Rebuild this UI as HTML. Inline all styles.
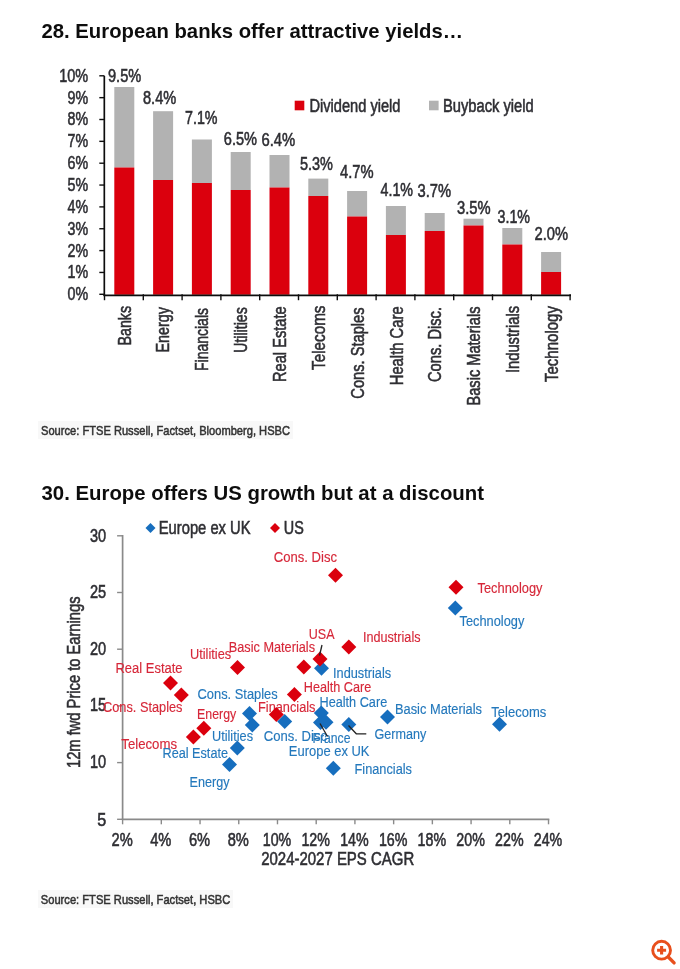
<!DOCTYPE html>
<html><head><meta charset="utf-8"><title>Charts</title>
<style>
html,body{margin:0;padding:0;background:#fff;}
body{width:680px;height:969px;overflow:hidden;}
svg{display:block;font-family:"Liberation Sans", sans-serif;}
</style></head><body>
<svg width="680" height="969" viewBox="0 0 680 969">
<defs><filter id="bl" filterUnits="userSpaceOnUse" x="0" y="0" width="680" height="969"><feGaussianBlur stdDeviation="0.6"/></filter></defs>
<rect width="680" height="969" fill="#fff"/>
<g filter="url(#bl)">
<text x="41.5" y="37.6" font-size="20.1" fill="#111" text-anchor="start" font-weight="bold" textLength="421.5" lengthAdjust="spacingAndGlyphs">28. European banks offer attractive yields…</text>
<rect x="114.30" y="87" width="20" height="80.50" fill="#B2B2B2"/>
<rect x="114.30" y="167.5" width="20" height="127.30" fill="#DB0011"/>
<rect x="153.10" y="111.2" width="20" height="68.80" fill="#B2B2B2"/>
<rect x="153.10" y="180" width="20" height="114.80" fill="#DB0011"/>
<rect x="191.90" y="139.5" width="20" height="43.50" fill="#B2B2B2"/>
<rect x="191.90" y="183" width="20" height="111.80" fill="#DB0011"/>
<rect x="230.70" y="152" width="20" height="38.00" fill="#B2B2B2"/>
<rect x="230.70" y="190" width="20" height="104.80" fill="#DB0011"/>
<rect x="269.50" y="155" width="20" height="32.50" fill="#B2B2B2"/>
<rect x="269.50" y="187.5" width="20" height="107.30" fill="#DB0011"/>
<rect x="308.30" y="178.6" width="20" height="17.40" fill="#B2B2B2"/>
<rect x="308.30" y="196" width="20" height="98.80" fill="#DB0011"/>
<rect x="347.10" y="191" width="20" height="25.50" fill="#B2B2B2"/>
<rect x="347.10" y="216.5" width="20" height="78.30" fill="#DB0011"/>
<rect x="385.90" y="206" width="20" height="29.00" fill="#B2B2B2"/>
<rect x="385.90" y="235" width="20" height="59.80" fill="#DB0011"/>
<rect x="424.70" y="213" width="20" height="18.00" fill="#B2B2B2"/>
<rect x="424.70" y="231" width="20" height="63.80" fill="#DB0011"/>
<rect x="463.50" y="218.7" width="20" height="6.80" fill="#B2B2B2"/>
<rect x="463.50" y="225.5" width="20" height="69.30" fill="#DB0011"/>
<rect x="502.30" y="228" width="20" height="16.50" fill="#B2B2B2"/>
<rect x="502.30" y="244.5" width="20" height="50.30" fill="#DB0011"/>
<rect x="541.10" y="252" width="20" height="20.00" fill="#B2B2B2"/>
<rect x="541.10" y="272" width="20" height="22.80" fill="#DB0011"/>
<path d="M104.3 75.80V295.90000000000003" stroke="#111" stroke-width="1.7" fill="none"/>
<path d="M103.5 295.3H571" stroke="#111" stroke-width="1.7" fill="none"/>
<path d="M99.3 294.30H104.3" stroke="#111" stroke-width="1.4"/>
<path d="M99.3 272.45H104.3" stroke="#111" stroke-width="1.4"/>
<path d="M99.3 250.60H104.3" stroke="#111" stroke-width="1.4"/>
<path d="M99.3 228.75H104.3" stroke="#111" stroke-width="1.4"/>
<path d="M99.3 206.90H104.3" stroke="#111" stroke-width="1.4"/>
<path d="M99.3 185.05H104.3" stroke="#111" stroke-width="1.4"/>
<path d="M99.3 163.20H104.3" stroke="#111" stroke-width="1.4"/>
<path d="M99.3 141.35H104.3" stroke="#111" stroke-width="1.4"/>
<path d="M99.3 119.50H104.3" stroke="#111" stroke-width="1.4"/>
<path d="M99.3 97.65H104.3" stroke="#111" stroke-width="1.4"/>
<path d="M99.3 75.80H104.3" stroke="#111" stroke-width="1.4"/>
<path d="M104.50 294.3V300.2" stroke="#111" stroke-width="1.4"/>
<path d="M143.30 294.3V300.2" stroke="#111" stroke-width="1.4"/>
<path d="M182.10 294.3V300.2" stroke="#111" stroke-width="1.4"/>
<path d="M220.90 294.3V300.2" stroke="#111" stroke-width="1.4"/>
<path d="M259.70 294.3V300.2" stroke="#111" stroke-width="1.4"/>
<path d="M298.50 294.3V300.2" stroke="#111" stroke-width="1.4"/>
<path d="M337.30 294.3V300.2" stroke="#111" stroke-width="1.4"/>
<path d="M376.10 294.3V300.2" stroke="#111" stroke-width="1.4"/>
<path d="M414.90 294.3V300.2" stroke="#111" stroke-width="1.4"/>
<path d="M453.70 294.3V300.2" stroke="#111" stroke-width="1.4"/>
<path d="M492.50 294.3V300.2" stroke="#111" stroke-width="1.4"/>
<path d="M531.30 294.3V300.2" stroke="#111" stroke-width="1.4"/>
<path d="M570.10 294.3V300.2" stroke="#111" stroke-width="1.4"/>
<text x="67.6" y="300.2" font-size="17.6" fill="#2e2e33" text-anchor="start" font-weight="normal" textLength="20.6" lengthAdjust="spacingAndGlyphs" stroke="#2e2e33" stroke-width="0.55">0%</text>
<text x="67.6" y="278.35" font-size="17.6" fill="#2e2e33" text-anchor="start" font-weight="normal" textLength="20.6" lengthAdjust="spacingAndGlyphs" stroke="#2e2e33" stroke-width="0.55">1%</text>
<text x="67.6" y="256.5" font-size="17.6" fill="#2e2e33" text-anchor="start" font-weight="normal" textLength="20.6" lengthAdjust="spacingAndGlyphs" stroke="#2e2e33" stroke-width="0.55">2%</text>
<text x="67.6" y="234.65" font-size="17.6" fill="#2e2e33" text-anchor="start" font-weight="normal" textLength="20.6" lengthAdjust="spacingAndGlyphs" stroke="#2e2e33" stroke-width="0.55">3%</text>
<text x="67.6" y="212.8" font-size="17.6" fill="#2e2e33" text-anchor="start" font-weight="normal" textLength="20.6" lengthAdjust="spacingAndGlyphs" stroke="#2e2e33" stroke-width="0.55">4%</text>
<text x="67.6" y="190.95" font-size="17.6" fill="#2e2e33" text-anchor="start" font-weight="normal" textLength="20.6" lengthAdjust="spacingAndGlyphs" stroke="#2e2e33" stroke-width="0.55">5%</text>
<text x="67.6" y="169.1" font-size="17.6" fill="#2e2e33" text-anchor="start" font-weight="normal" textLength="20.6" lengthAdjust="spacingAndGlyphs" stroke="#2e2e33" stroke-width="0.55">6%</text>
<text x="67.6" y="147.25" font-size="17.6" fill="#2e2e33" text-anchor="start" font-weight="normal" textLength="20.6" lengthAdjust="spacingAndGlyphs" stroke="#2e2e33" stroke-width="0.55">7%</text>
<text x="67.6" y="125.4" font-size="17.6" fill="#2e2e33" text-anchor="start" font-weight="normal" textLength="20.6" lengthAdjust="spacingAndGlyphs" stroke="#2e2e33" stroke-width="0.55">8%</text>
<text x="67.6" y="103.55" font-size="17.6" fill="#2e2e33" text-anchor="start" font-weight="normal" textLength="20.6" lengthAdjust="spacingAndGlyphs" stroke="#2e2e33" stroke-width="0.55">9%</text>
<text x="59.2" y="81.7" font-size="17.6" fill="#2e2e33" text-anchor="start" font-weight="normal" textLength="29.0" lengthAdjust="spacingAndGlyphs" stroke="#2e2e33" stroke-width="0.55">10%</text>
<text x="108" y="81.5" font-size="17.6" fill="#2e2e33" text-anchor="start" font-weight="normal" textLength="33.2" lengthAdjust="spacingAndGlyphs" stroke="#2e2e33" stroke-width="0.55">9.5%</text>
<text x="143" y="103.8" font-size="17.6" fill="#2e2e33" text-anchor="start" font-weight="normal" textLength="33.2" lengthAdjust="spacingAndGlyphs" stroke="#2e2e33" stroke-width="0.55">8.4%</text>
<text x="185" y="123.8" font-size="17.6" fill="#2e2e33" text-anchor="start" font-weight="normal" textLength="32.5" lengthAdjust="spacingAndGlyphs" stroke="#2e2e33" stroke-width="0.55">7.1%</text>
<text x="223.8" y="144.5" font-size="17.6" fill="#2e2e33" text-anchor="start" font-weight="normal" textLength="33.2" lengthAdjust="spacingAndGlyphs" stroke="#2e2e33" stroke-width="0.55">6.5%</text>
<text x="261.5" y="146.3" font-size="17.6" fill="#2e2e33" text-anchor="start" font-weight="normal" textLength="33.8" lengthAdjust="spacingAndGlyphs" stroke="#2e2e33" stroke-width="0.55">6.4%</text>
<text x="300" y="170" font-size="17.6" fill="#2e2e33" text-anchor="start" font-weight="normal" textLength="33" lengthAdjust="spacingAndGlyphs" stroke="#2e2e33" stroke-width="0.55">5.3%</text>
<text x="340" y="177.6" font-size="17.6" fill="#2e2e33" text-anchor="start" font-weight="normal" textLength="33.6" lengthAdjust="spacingAndGlyphs" stroke="#2e2e33" stroke-width="0.55">4.7%</text>
<text x="380.5" y="195.5" font-size="17.6" fill="#2e2e33" text-anchor="start" font-weight="normal" textLength="32.5" lengthAdjust="spacingAndGlyphs" stroke="#2e2e33" stroke-width="0.55">4.1%</text>
<text x="417.5" y="197" font-size="17.6" fill="#2e2e33" text-anchor="start" font-weight="normal" textLength="33.6" lengthAdjust="spacingAndGlyphs" stroke="#2e2e33" stroke-width="0.55">3.7%</text>
<text x="457" y="213.8" font-size="17.6" fill="#2e2e33" text-anchor="start" font-weight="normal" textLength="33.6" lengthAdjust="spacingAndGlyphs" stroke="#2e2e33" stroke-width="0.55">3.5%</text>
<text x="497.5" y="222.5" font-size="17.6" fill="#2e2e33" text-anchor="start" font-weight="normal" textLength="32.5" lengthAdjust="spacingAndGlyphs" stroke="#2e2e33" stroke-width="0.55">3.1%</text>
<text x="534.5" y="239.5" font-size="17.6" fill="#2e2e33" text-anchor="start" font-weight="normal" textLength="33.5" lengthAdjust="spacingAndGlyphs" stroke="#2e2e33" stroke-width="0.55">2.0%</text>
<rect x="294.7" y="100.7" width="9.6" height="9.6" fill="#DB0011"/>
<text x="309.5" y="112" font-size="17.6" fill="#2e2e33" text-anchor="start" font-weight="normal" textLength="91" lengthAdjust="spacingAndGlyphs" stroke="#2e2e33" stroke-width="0.55">Dividend yield</text>
<rect x="429" y="100.7" width="9.6" height="9.6" fill="#B2B2B2"/>
<text x="443" y="112" font-size="17.6" fill="#2e2e33" text-anchor="start" font-weight="normal" textLength="90.7" lengthAdjust="spacingAndGlyphs" stroke="#2e2e33" stroke-width="0.55">Buyback yield</text>
<text transform="translate(130.5,345.5) rotate(-90)" x="0" y="0" font-size="18.3" fill="#2e2e33" stroke="#2e2e33" stroke-width="0.55" textLength="39.5" lengthAdjust="spacingAndGlyphs">Banks</text>
<text transform="translate(169.37,352.5) rotate(-90)" x="0" y="0" font-size="18.3" fill="#2e2e33" stroke="#2e2e33" stroke-width="0.55" textLength="45.5" lengthAdjust="spacingAndGlyphs">Energy</text>
<text transform="translate(208.24,371) rotate(-90)" x="0" y="0" font-size="18.3" fill="#2e2e33" stroke="#2e2e33" stroke-width="0.55" textLength="63" lengthAdjust="spacingAndGlyphs">Financials</text>
<text transform="translate(247.11,352.8) rotate(-90)" x="0" y="0" font-size="18.3" fill="#2e2e33" stroke="#2e2e33" stroke-width="0.55" textLength="45.5" lengthAdjust="spacingAndGlyphs">Utilities</text>
<text transform="translate(285.98,382.0) rotate(-90)" x="0" y="0" font-size="18.3" fill="#2e2e33" stroke="#2e2e33" stroke-width="0.55" textLength="75.7" lengthAdjust="spacingAndGlyphs">Real Estate</text>
<text transform="translate(324.85,370.0) rotate(-90)" x="0" y="0" font-size="18.3" fill="#2e2e33" stroke="#2e2e33" stroke-width="0.55" textLength="64.5" lengthAdjust="spacingAndGlyphs">Telecoms</text>
<text transform="translate(363.72,398.7) rotate(-90)" x="0" y="0" font-size="18.3" fill="#2e2e33" stroke="#2e2e33" stroke-width="0.55" textLength="91.2" lengthAdjust="spacingAndGlyphs">Cons. Staples</text>
<text transform="translate(402.59,385.3) rotate(-90)" x="0" y="0" font-size="18.3" fill="#2e2e33" stroke="#2e2e33" stroke-width="0.55" textLength="79" lengthAdjust="spacingAndGlyphs">Health Care</text>
<text transform="translate(441.46,382) rotate(-90)" x="0" y="0" font-size="18.3" fill="#2e2e33" stroke="#2e2e33" stroke-width="0.55" textLength="75" lengthAdjust="spacingAndGlyphs">Cons. Disc.</text>
<text transform="translate(480.33,405.5) rotate(-90)" x="0" y="0" font-size="18.3" fill="#2e2e33" stroke="#2e2e33" stroke-width="0.55" textLength="99" lengthAdjust="spacingAndGlyphs">Basic Materials</text>
<text transform="translate(519.2,373) rotate(-90)" x="0" y="0" font-size="18.3" fill="#2e2e33" stroke="#2e2e33" stroke-width="0.55" textLength="67" lengthAdjust="spacingAndGlyphs">Industrials</text>
<text transform="translate(558.07,382) rotate(-90)" x="0" y="0" font-size="18.3" fill="#2e2e33" stroke="#2e2e33" stroke-width="0.55" textLength="76" lengthAdjust="spacingAndGlyphs">Technology</text>
<rect x="38" y="421" width="255" height="18" fill="#f8f8f8"/>
<text x="41" y="434.6" font-size="13.5" fill="#333" text-anchor="start" font-weight="normal" textLength="249" lengthAdjust="spacingAndGlyphs" stroke="#333" stroke-width="0.55">Source: FTSE Russell, Factset, Bloomberg, HSBC</text>
<text x="41.5" y="500.3" font-size="20.1" fill="#111" text-anchor="start" font-weight="bold" textLength="442.5" lengthAdjust="spacingAndGlyphs">30. Europe offers US growth but at a discount</text>
<path d="M122.6 535.10V820.0999999999999" stroke="#8a8a8a" stroke-width="1.7" fill="none"/>
<path d="M121.8 819.3H549.32" stroke="#8a8a8a" stroke-width="1.7" fill="none"/>
<path d="M117.1 819.30H122.6" stroke="#8a8a8a" stroke-width="1.4"/>
<text x="97.2" y="825.5" font-size="17.6" fill="#2e2e33" text-anchor="start" font-weight="normal" textLength="9" lengthAdjust="spacingAndGlyphs" stroke="#2e2e33" stroke-width="0.55">5</text>
<path d="M117.1 762.60H122.6" stroke="#8a8a8a" stroke-width="1.4"/>
<text x="90.0" y="768.0" font-size="17.6" fill="#2e2e33" text-anchor="start" font-weight="normal" textLength="16.2" lengthAdjust="spacingAndGlyphs" stroke="#2e2e33" stroke-width="0.55">10</text>
<path d="M117.1 705.90H122.6" stroke="#8a8a8a" stroke-width="1.4"/>
<text x="90.0" y="711.3" font-size="17.6" fill="#2e2e33" text-anchor="start" font-weight="normal" textLength="16.2" lengthAdjust="spacingAndGlyphs" stroke="#2e2e33" stroke-width="0.55">15</text>
<path d="M117.1 649.20H122.6" stroke="#8a8a8a" stroke-width="1.4"/>
<text x="90.0" y="654.6" font-size="17.6" fill="#2e2e33" text-anchor="start" font-weight="normal" textLength="16.2" lengthAdjust="spacingAndGlyphs" stroke="#2e2e33" stroke-width="0.55">20</text>
<path d="M117.1 592.50H122.6" stroke="#8a8a8a" stroke-width="1.4"/>
<text x="90.0" y="597.9" font-size="17.6" fill="#2e2e33" text-anchor="start" font-weight="normal" textLength="16.2" lengthAdjust="spacingAndGlyphs" stroke="#2e2e33" stroke-width="0.55">25</text>
<path d="M117.1 535.80H122.6" stroke="#8a8a8a" stroke-width="1.4"/>
<text x="90.0" y="542.0" font-size="17.6" fill="#2e2e33" text-anchor="start" font-weight="normal" textLength="16.2" lengthAdjust="spacingAndGlyphs" stroke="#2e2e33" stroke-width="0.55">30</text>
<path d="M122.60 819.3V824.3" stroke="#8a8a8a" stroke-width="1.4"/>
<text x="111.5" y="846.3" font-size="17.6" fill="#2e2e33" text-anchor="start" font-weight="normal" textLength="21.2" lengthAdjust="spacingAndGlyphs" stroke="#2e2e33" stroke-width="0.55">2%</text>
<path d="M161.32 819.3V824.3" stroke="#8a8a8a" stroke-width="1.4"/>
<text x="150.22" y="846.3" font-size="17.6" fill="#2e2e33" text-anchor="start" font-weight="normal" textLength="21.2" lengthAdjust="spacingAndGlyphs" stroke="#2e2e33" stroke-width="0.55">4%</text>
<path d="M200.04 819.3V824.3" stroke="#8a8a8a" stroke-width="1.4"/>
<text x="188.94" y="846.3" font-size="17.6" fill="#2e2e33" text-anchor="start" font-weight="normal" textLength="21.2" lengthAdjust="spacingAndGlyphs" stroke="#2e2e33" stroke-width="0.55">6%</text>
<path d="M238.76 819.3V824.3" stroke="#8a8a8a" stroke-width="1.4"/>
<text x="227.66" y="846.3" font-size="17.6" fill="#2e2e33" text-anchor="start" font-weight="normal" textLength="21.2" lengthAdjust="spacingAndGlyphs" stroke="#2e2e33" stroke-width="0.55">8%</text>
<path d="M277.48 819.3V824.3" stroke="#8a8a8a" stroke-width="1.4"/>
<text x="262.73" y="846.3" font-size="17.6" fill="#2e2e33" text-anchor="start" font-weight="normal" textLength="28.5" lengthAdjust="spacingAndGlyphs" stroke="#2e2e33" stroke-width="0.55">10%</text>
<path d="M316.20 819.3V824.3" stroke="#8a8a8a" stroke-width="1.4"/>
<text x="301.45" y="846.3" font-size="17.6" fill="#2e2e33" text-anchor="start" font-weight="normal" textLength="28.5" lengthAdjust="spacingAndGlyphs" stroke="#2e2e33" stroke-width="0.55">12%</text>
<path d="M354.92 819.3V824.3" stroke="#8a8a8a" stroke-width="1.4"/>
<text x="340.17" y="846.3" font-size="17.6" fill="#2e2e33" text-anchor="start" font-weight="normal" textLength="28.5" lengthAdjust="spacingAndGlyphs" stroke="#2e2e33" stroke-width="0.55">14%</text>
<path d="M393.64 819.3V824.3" stroke="#8a8a8a" stroke-width="1.4"/>
<text x="378.89" y="846.3" font-size="17.6" fill="#2e2e33" text-anchor="start" font-weight="normal" textLength="28.5" lengthAdjust="spacingAndGlyphs" stroke="#2e2e33" stroke-width="0.55">16%</text>
<path d="M432.36 819.3V824.3" stroke="#8a8a8a" stroke-width="1.4"/>
<text x="417.61" y="846.3" font-size="17.6" fill="#2e2e33" text-anchor="start" font-weight="normal" textLength="28.5" lengthAdjust="spacingAndGlyphs" stroke="#2e2e33" stroke-width="0.55">18%</text>
<path d="M471.08 819.3V824.3" stroke="#8a8a8a" stroke-width="1.4"/>
<text x="456.33" y="846.3" font-size="17.6" fill="#2e2e33" text-anchor="start" font-weight="normal" textLength="28.5" lengthAdjust="spacingAndGlyphs" stroke="#2e2e33" stroke-width="0.55">20%</text>
<path d="M509.80 819.3V824.3" stroke="#8a8a8a" stroke-width="1.4"/>
<text x="495.05" y="846.3" font-size="17.6" fill="#2e2e33" text-anchor="start" font-weight="normal" textLength="28.5" lengthAdjust="spacingAndGlyphs" stroke="#2e2e33" stroke-width="0.55">22%</text>
<path d="M548.52 819.3V824.3" stroke="#8a8a8a" stroke-width="1.4"/>
<text x="533.77" y="846.3" font-size="17.6" fill="#2e2e33" text-anchor="start" font-weight="normal" textLength="28.5" lengthAdjust="spacingAndGlyphs" stroke="#2e2e33" stroke-width="0.55">24%</text>
<text x="261.2" y="864.8" font-size="17.6" fill="#2e2e33" text-anchor="start" font-weight="normal" textLength="153" lengthAdjust="spacingAndGlyphs" stroke="#2e2e33" stroke-width="0.55">2024-2027 EPS CAGR</text>
<text transform="translate(80.4,768.0) rotate(-90)" x="0" y="0" font-size="18.2" fill="#2e2e33" stroke="#2e2e33" stroke-width="0.55" textLength="171.5" lengthAdjust="spacingAndGlyphs">12m fwd Price to Earnings</text>
<path d="M150.5 523L155.5 528L150.5 533L145.5 528Z" fill="#186EBE"/>
<text x="158.8" y="533.8" font-size="17.6" fill="#2e2e33" text-anchor="start" font-weight="normal" textLength="91.7" lengthAdjust="spacingAndGlyphs" stroke="#2e2e33" stroke-width="0.55">Europe ex UK</text>
<path d="M275 523L280 528L275 533L270 528Z" fill="#DB0011"/>
<text x="283.8" y="533.8" font-size="17.6" fill="#2e2e33" text-anchor="start" font-weight="normal" textLength="20" lengthAdjust="spacingAndGlyphs" stroke="#2e2e33" stroke-width="0.55">US</text>
<text x="273.8" y="562.2" font-size="15.1" fill="#D62839" text-anchor="start" font-weight="normal" textLength="63.2" lengthAdjust="spacingAndGlyphs" stroke="#D62839" stroke-width="0.15">Cons. Disc</text>
<text x="477.5" y="593.0" font-size="15.1" fill="#D62839" text-anchor="start" font-weight="normal" textLength="65" lengthAdjust="spacingAndGlyphs" stroke="#D62839" stroke-width="0.15">Technology</text>
<text x="363" y="642.2" font-size="15.1" fill="#D62839" text-anchor="start" font-weight="normal" textLength="57.5" lengthAdjust="spacingAndGlyphs" stroke="#D62839" stroke-width="0.15">Industrials</text>
<text x="308.8" y="639.2" font-size="15.1" fill="#D62839" text-anchor="start" font-weight="normal" textLength="25.7" lengthAdjust="spacingAndGlyphs" stroke="#D62839" stroke-width="0.15">USA</text>
<text x="228.8" y="652.2" font-size="15.1" fill="#D62839" text-anchor="start" font-weight="normal" textLength="86.2" lengthAdjust="spacingAndGlyphs" stroke="#D62839" stroke-width="0.15">Basic Materials</text>
<text x="190" y="659.0" font-size="15.1" fill="#D62839" text-anchor="start" font-weight="normal" textLength="41.2" lengthAdjust="spacingAndGlyphs" stroke="#D62839" stroke-width="0.15">Utilities</text>
<text x="115.5" y="672.7" font-size="15.1" fill="#D62839" text-anchor="start" font-weight="normal" textLength="67" lengthAdjust="spacingAndGlyphs" stroke="#D62839" stroke-width="0.15">Real Estate</text>
<text x="303.8" y="692.0" font-size="15.1" fill="#D62839" text-anchor="start" font-weight="normal" textLength="67.5" lengthAdjust="spacingAndGlyphs" stroke="#D62839" stroke-width="0.15">Health Care</text>
<text x="103" y="712.2" font-size="15.1" fill="#D62839" text-anchor="start" font-weight="normal" textLength="79.5" lengthAdjust="spacingAndGlyphs" stroke="#D62839" stroke-width="0.15">Cons. Staples</text>
<text x="258" y="712.0" font-size="15.1" fill="#D62839" text-anchor="start" font-weight="normal" textLength="57.5" lengthAdjust="spacingAndGlyphs" stroke="#D62839" stroke-width="0.15">Financials</text>
<text x="197" y="718.7" font-size="15.1" fill="#D62839" text-anchor="start" font-weight="normal" textLength="39.2" lengthAdjust="spacingAndGlyphs" stroke="#D62839" stroke-width="0.15">Energy</text>
<text x="121.3" y="749.2" font-size="15.1" fill="#D62839" text-anchor="start" font-weight="normal" textLength="55.7" lengthAdjust="spacingAndGlyphs" stroke="#D62839" stroke-width="0.15">Telecoms</text>
<text x="459.5" y="625.5" font-size="15.1" fill="#2478BC" text-anchor="start" font-weight="normal" textLength="64.8" lengthAdjust="spacingAndGlyphs" stroke="#2478BC" stroke-width="0.15">Technology</text>
<text x="333" y="677.9000000000001" font-size="15.1" fill="#2478BC" text-anchor="start" font-weight="normal" textLength="58.2" lengthAdjust="spacingAndGlyphs" stroke="#2478BC" stroke-width="0.15">Industrials</text>
<text x="197.5" y="698.5" font-size="15.1" fill="#2478BC" text-anchor="start" font-weight="normal" textLength="80.2" lengthAdjust="spacingAndGlyphs" stroke="#2478BC" stroke-width="0.15">Cons. Staples</text>
<text x="319.5" y="707.1" font-size="15.1" fill="#2478BC" text-anchor="start" font-weight="normal" textLength="67.7" lengthAdjust="spacingAndGlyphs" stroke="#2478BC" stroke-width="0.15">Health Care</text>
<text x="395" y="713.5" font-size="15.1" fill="#2478BC" text-anchor="start" font-weight="normal" textLength="87" lengthAdjust="spacingAndGlyphs" stroke="#2478BC" stroke-width="0.15">Basic Materials</text>
<text x="491.3" y="717.2" font-size="15.1" fill="#2478BC" text-anchor="start" font-weight="normal" textLength="55" lengthAdjust="spacingAndGlyphs" stroke="#2478BC" stroke-width="0.15">Telecoms</text>
<text x="212" y="740.9000000000001" font-size="15.1" fill="#2478BC" text-anchor="start" font-weight="normal" textLength="41" lengthAdjust="spacingAndGlyphs" stroke="#2478BC" stroke-width="0.15">Utilities</text>
<text x="263.8" y="740.5" font-size="15.1" fill="#2478BC" text-anchor="start" font-weight="normal" textLength="63.2" lengthAdjust="spacingAndGlyphs" stroke="#2478BC" stroke-width="0.15">Cons. Disc</text>
<text x="374.5" y="739.2" font-size="15.1" fill="#2478BC" text-anchor="start" font-weight="normal" textLength="51.8" lengthAdjust="spacingAndGlyphs" stroke="#2478BC" stroke-width="0.15">Germany</text>
<text x="312.5" y="742.7" font-size="15.1" fill="#2478BC" text-anchor="start" font-weight="normal" textLength="38" lengthAdjust="spacingAndGlyphs" stroke="#2478BC" stroke-width="0.15">France</text>
<text x="162.5" y="757.7" font-size="15.1" fill="#2478BC" text-anchor="start" font-weight="normal" textLength="65.5" lengthAdjust="spacingAndGlyphs" stroke="#2478BC" stroke-width="0.15">Real Estate</text>
<text x="288.8" y="756.0" font-size="15.1" fill="#2478BC" text-anchor="start" font-weight="normal" textLength="80.7" lengthAdjust="spacingAndGlyphs" stroke="#2478BC" stroke-width="0.15">Europe ex UK</text>
<text x="354.5" y="774.3000000000001" font-size="15.1" fill="#2478BC" text-anchor="start" font-weight="normal" textLength="57.5" lengthAdjust="spacingAndGlyphs" stroke="#2478BC" stroke-width="0.15">Financials</text>
<text x="189.5" y="786.7" font-size="15.1" fill="#2478BC" text-anchor="start" font-weight="normal" textLength="40" lengthAdjust="spacingAndGlyphs" stroke="#2478BC" stroke-width="0.15">Energy</text>
<path d="M455.3 600.5L462.8 608L455.3 615.5L447.8 608Z" fill="#186EBE"/>
<path d="M321.5 660.7L329.0 668.2L321.5 675.7L314.0 668.2Z" fill="#186EBE"/>
<path d="M249.5 705.9L257.0 713.4L249.5 720.9L242.0 713.4Z" fill="#186EBE"/>
<path d="M252.3 717.5L259.8 725L252.3 732.5L244.8 725Z" fill="#186EBE"/>
<path d="M237.3 740.5L244.8 748L237.3 755.5L229.8 748Z" fill="#186EBE"/>
<path d="M229.5 757.0L237.0 764.5L229.5 772.0L222.0 764.5Z" fill="#186EBE"/>
<path d="M284.7 714.1L292.2 721.6L284.7 729.1L277.2 721.6Z" fill="#186EBE"/>
<path d="M321.3 705.5L328.8 713L321.3 720.5L313.8 713Z" fill="#186EBE"/>
<path d="M320.5 715.0L328.0 722.5L320.5 730.0L313.0 722.5Z" fill="#186EBE"/>
<path d="M326 714.8L333.5 722.3L326 729.8L318.5 722.3Z" fill="#186EBE"/>
<path d="M348.8 717.0L356.3 724.5L348.8 732.0L341.3 724.5Z" fill="#186EBE"/>
<path d="M387.5 709.5L395.0 717L387.5 724.5L380.0 717Z" fill="#186EBE"/>
<path d="M499.5 716.7L507.0 724.2L499.5 731.7L492.0 724.2Z" fill="#186EBE"/>
<path d="M333.3 760.8L340.8 768.3L333.3 775.8L325.8 768.3Z" fill="#186EBE"/>
<path d="M335.5 567.8L343.0 575.3L335.5 582.8L328.0 575.3Z" fill="#DB0011"/>
<path d="M456 579.8L463.5 587.3L456 594.8L448.5 587.3Z" fill="#DB0011"/>
<path d="M348.8 639.5L356.3 647L348.8 654.5L341.3 647Z" fill="#DB0011"/>
<path d="M320 651.5L327.5 659L320 666.5L312.5 659Z" fill="#DB0011"/>
<path d="M303.8 659.5L311.3 667L303.8 674.5L296.3 667Z" fill="#DB0011"/>
<path d="M237.5 660.0L245.0 667.5L237.5 675.0L230.0 667.5Z" fill="#DB0011"/>
<path d="M170.5 675.5L178.0 683L170.5 690.5L163.0 683Z" fill="#DB0011"/>
<path d="M181.3 687.5L188.8 695L181.3 702.5L173.8 695Z" fill="#DB0011"/>
<path d="M294.4 687.0L301.9 694.5L294.4 702.0L286.9 694.5Z" fill="#DB0011"/>
<path d="M276.3 707.0L283.8 714.5L276.3 722.0L268.8 714.5Z" fill="#DB0011"/>
<path d="M203.8 720.8L211.3 728.3L203.8 735.8L196.3 728.3Z" fill="#DB0011"/>
<path d="M193.4 729.5L200.9 737L193.4 744.5L185.9 737Z" fill="#DB0011"/>
<path d="M322 645L319.5 655.5" stroke="#222" stroke-width="1.3" fill="none"/>
<path d="M320 723.5L327.5 736.5" stroke="#222" stroke-width="1.3" fill="none"/>
<path d="M348.5 725.5L356.3 733.8H366.3" stroke="#222" stroke-width="1.3" fill="none"/>
<rect x="38" y="890" width="195" height="18" fill="#f8f8f8"/>
<text x="40.8" y="904" font-size="13.5" fill="#333" text-anchor="start" font-weight="normal" textLength="189.5" lengthAdjust="spacingAndGlyphs" stroke="#333" stroke-width="0.55">Source: FTSE Russell, Factset, HSBC</text>
<circle cx="661.6" cy="950.2" r="8.9" fill="none" stroke="#E8501F" stroke-width="2.9"/>
<path d="M668.3 957L674.1 962.9" stroke="#E8501F" stroke-width="3.4" stroke-linecap="round"/>
<path d="M657.1 950.3H666.1M661.6 946.1V954.6" stroke="#E8501F" stroke-width="3.1"/>
</g>
</svg>
</body></html>
